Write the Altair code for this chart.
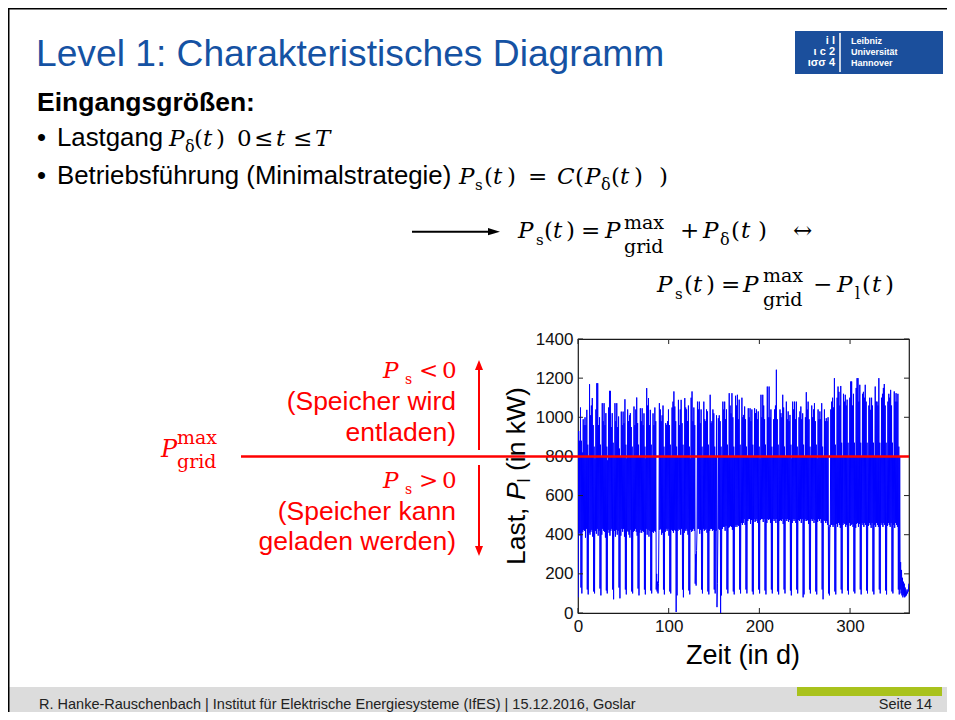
import altair as alt
import pandas as pd

# ---------------- data ----------------
x_ticks = [0, 100, 200, 300]
y_ticks = [0, 200, 400, 600, 800, 1000, 1200, 1400]
p_grid_max = [800]

# daily maximum of the load P_l (kW), one list per week (day 0 ... 364)
daily_max_weeks = [
    [930, 880, 1050, 880, 820, 990, 960],
    [1000, 960, 1038, 860, 800, 1169, 1010],
    [1060, 1098, 960, 850, 790, 1040, 1174],
    [1174, 960, 1000, 860, 800, 1072, 980],
    [1072, 960, 1021, 850, 780, 1050, 1135],
    [1135, 950, 1021, 870, 800, 1072, 980],
    [1072, 950, 1004, 840, 800, 1029, 960],
    [1029, 970, 1092, 860, 790, 1040, 980],
    [1010, 1021, 950, 850, 800, 1055, 960],
    [1040, 1101, 970, 860, 800, 1046, 980],
    [1046, 960, 1020, 850, 790, 1149, 1060],
    [1098, 960, 1038, 860, 800, 1020, 960],
    [1050, 980, 200, 160, 150, 1072, 1040],
    [980, 1010, 1060, 850, 800, 970, 961],
    [980, 1040, 960, 860, 800, 1050, 1080],
    [1132, 1055, 980, 850, 800, 1089, 960],
    [1040, 1089, 970, 860, 800, 1098, 1050],
    [1040, 980, 1060, 850, 790, 1100, 1132],
    [980, 1050, 960, 300, 320, 1080, 1040],
    [1080, 970, 1040, 850, 800, 1080, 990],
    [980, 1040, 1030, 860, 800, 1115, 970],
    [980, 1040, 1020, 850, 800, 1010, 150],
    [995, 1010, 980, 850, 800, 1080, 1040],
    [1080, 990, 1040, 860, 800, 1123, 1060],
    [1020, 1123, 1000, 850, 800, 1110, 1060],
    [1115, 990, 1090, 860, 800, 1100, 1000],
    [1012, 1055, 990, 850, 800, 1046, 1000],
    [1046, 980, 1040, 860, 800, 1046, 1021],
    [1040, 990, 1030, 850, 790, 1115, 1000],
    [1115, 1060, 990, 860, 800, 1157, 1000],
    [1157, 1000, 1040, 850, 800, 990, 1040],
    [1060, 1243, 990, 860, 800, 1040, 1021],
    [1000, 1115, 1050, 850, 800, 1080, 990],
    [1030, 980, 1012, 860, 790, 1080, 1040],
    [1080, 990, 1080, 850, 800, 1000, 1030],
    [1055, 990, 1020, 860, 800, 1000, 1128],
    [1040, 1080, 990, 850, 800, 1060, 1000],
    [1040, 1072, 980, 860, 790, 1040, 990],
    [1030, 990, 1072, 850, 800, 1040, 980],
    [995, 980, 1000, 440, 450, 1040, 1080],
    [1100, 1050, 1200, 860, 800, 1100, 1157],
    [1130, 1060, 1160, 870, 800, 1120, 1080],
    [1115, 1060, 1090, 870, 800, 1100, 1183],
    [1183, 1060, 1120, 870, 800, 1150, 1200],
    [1200, 1080, 1166, 870, 800, 1120, 1130],
    [1100, 1166, 1080, 870, 800, 1060, 1100],
    [1038, 1100, 1060, 870, 800, 1157, 1080],
    [1080, 1060, 1200, 870, 800, 1100, 1120],
    [1150, 1170, 1060, 870, 800, 1080, 1120],
    [1100, 1140, 1060, 870, 800, 1132, 1080],
    [1123, 1080, 1120, 850, 800, 260, 220],
    [180, 160, 150, 130, 120, 110, 120],
    [150],
]

# daily minimum of the load P_l (kW), one list per week
daily_min_weeks = [
    [80, 410, 395, 130, 100, 415, 425],
    [420, 385, 430, 120, 95, 410, 400],
    [415, 425, 390, 110, 100, 420, 405],
    [430, 395, 420, 125, 90, 400, 430],
    [420, 415, 385, 115, 100, 425, 410],
    [395, 420, 430, 120, 70, 420, 390],
    [425, 400, 420, 130, 75, 395, 430],
    [415, 430, 390, 120, 95, 420, 415],
    [400, 385, 425, 110, 100, 415, 420],
    [430, 415, 395, 125, 90, 410, 425],
    [410, 420, 415, 120, 95, 430, 400],
    [425, 390, 420, 115, 100, 415, 410],
    [420, 415, 120, 110, 100, 420, 425],
    [430, 400, 410, 120, 95, 415, 430],
    [420, 430, 395, 110, 100, 425, 420],
    [410, 425, 420, 5, 90, 420, 430],
    [425, 400, 430, 120, 80, 410, 420],
    [430, 420, 400, 115, 95, 425, 415],
    [420, 430, 420, 150, 140, 420, 430],
    [430, 405, 425, 120, 100, 430, 420],
    [425, 430, 410, 110, 95, 420, 430],
    [430, 420, 425, 120, 100, 420, 30],
    [420, 430, 425, 0, 90, 430, 440],
    [440, 420, 445, 120, 100, 435, 440],
    [445, 440, 425, 110, 95, 440, 450],
    [440, 450, 445, 120, 100, 460, 450],
    [460, 480, 450, 120, 100, 470, 480],
    [480, 455, 475, 110, 95, 480, 465],
    [470, 480, 460, 120, 100, 475, 480],
    [480, 465, 480, 115, 95, 460, 480],
    [475, 480, 460, 120, 100, 480, 470],
    [480, 460, 480, 110, 95, 470, 475],
    [470, 480, 455, 120, 100, 480, 470],
    [480, 465, 475, 115, 90, 460, 480],
    [470, 480, 460, 120, 100, 475, 470],
    [480, 460, 480, 80, 95, 470, 480],
    [470, 475, 455, 120, 100, 480, 470],
    [480, 460, 475, 110, 95, 465, 480],
    [470, 480, 460, 120, 70, 475, 470],
    [460, 470, 450, 100, 90, 440, 450],
    [450, 440, 450, 110, 95, 455, 440],
    [460, 450, 435, 120, 100, 450, 460],
    [455, 440, 450, 115, 95, 460, 445],
    [450, 455, 440, 110, 100, 435, 455],
    [460, 440, 455, 120, 95, 460, 450],
    [440, 460, 450, 115, 100, 445, 460],
    [450, 435, 460, 110, 95, 450, 440],
    [460, 450, 440, 120, 100, 460, 450],
    [440, 460, 450, 115, 95, 445, 460],
    [450, 440, 460, 110, 100, 450, 435],
    [460, 450, 440, 120, 95, 120, 100],
    [90, 80, 90, 80, 85, 90, 100],
    [110],
]

daily_max = [v for w in daily_max_weeks for v in w][:365]
daily_min = [v for w in daily_min_weeks for v in w][:365]

rows = []
for d, (lo, hi) in enumerate(zip(daily_min, daily_max)):
    rows.append({"t": d + 0.25, "p": lo})
    rows.append({"t": d + 0.75, "p": hi})
load = pd.DataFrame(rows)

# ---------------- layout helpers ----------------
OX, OY = 578, 339          # page position of the plot's top-left corner
W, H = 331, 274
SANS = "Liberation Sans, Arial, Helvetica, sans-serif"
SERIF = "DejaVu Serif, serif"
BLACK = "#000000"
RED = "#ff0000"
BLUE_T = "#1552a3"

one = pd.DataFrame({"k": [0]})


def txt(s, X, Y, size, font=SANS, color=BLACK, style="normal", weight="normal",
        align="left", baseline="alphabetic", angle=0):
    return alt.Chart(one).mark_text(
        text=s, font=font, fontSize=size, color=color, fontStyle=style,
        fontWeight=weight, align=align, baseline=baseline, angle=angle
    ).encode(x=alt.value(X - OX), y=alt.value(Y - OY))


def rule(X1, Y1, X2, Y2, color, w):
    return alt.Chart(one).mark_rule(color=color, strokeWidth=w).encode(
        x=alt.value(X1 - OX), x2=alt.value(X2 - OX),
        y=alt.value(Y1 - OY), y2=alt.value(Y2 - OY))


def rect(X1, Y1, X2, Y2, color):
    return alt.Chart(one).mark_rect(color=color).encode(
        x=alt.value(X1 - OX), x2=alt.value(X2 - OX),
        y=alt.value(Y1 - OY), y2=alt.value(Y2 - OY))


def head(X, Y, path, size, color):
    return alt.Chart(one).mark_point(
        shape=path, filled=True, size=size, color=color, opacity=1, strokeWidth=0
    ).encode(x=alt.value(X - OX), y=alt.value(Y - OY))


def math(pieces, color=BLACK):
    out = []
    for s, X, Y, size, style in pieces:
        out.append(txt(s, X, Y, size, font=SERIF, color=color, style=style))
    return out


# ---------------- plot ----------------
xs = alt.Scale(domain=[0, 365], nice=False, zero=False)
ys = alt.Scale(domain=[0, 1400], nice=False)
xa = alt.Axis(values=x_ticks, title=None, ticks=False, domain=False, grid=False,
              labelFont=SANS, labelFontSize=17, labelColor="#111111",
              labelPadding=5, labelFlush=False, format="d")
ya = alt.Axis(values=y_ticks, title=None, ticks=False, domain=False, grid=False,
              labelFont=SANS, labelFontSize=17, labelColor="#111111",
              labelPadding=5, format="d")

line = alt.Chart(load).mark_line(color="#0000ff", strokeWidth=1, clip=True).encode(
    x=alt.X("t:Q", scale=xs, axis=xa),
    y=alt.Y("p:Q", scale=ys, axis=ya),
)

xt = pd.DataFrame({"t": x_ticks})
yt = pd.DataFrame({"p": y_ticks})
tick_col = "#222222"
ticks = [
    alt.Chart(xt).mark_rule(color=tick_col, strokeWidth=1).encode(
        x=alt.X("t:Q", scale=xs, axis=xa), y=alt.value(H), y2=alt.value(H - 5)),
    alt.Chart(xt).mark_rule(color=tick_col, strokeWidth=1).encode(
        x=alt.X("t:Q", scale=xs, axis=xa), y=alt.value(0), y2=alt.value(5)),
    alt.Chart(yt).mark_rule(color=tick_col, strokeWidth=1).encode(
        y=alt.Y("p:Q", scale=ys, axis=ya), x=alt.value(0), x2=alt.value(5)),
    alt.Chart(yt).mark_rule(color=tick_col, strokeWidth=1).encode(
        y=alt.Y("p:Q", scale=ys, axis=ya), x=alt.value(W), x2=alt.value(W - 5)),
]

grid_line = alt.Chart(pd.DataFrame({"p": p_grid_max})).mark_rule(
    color=RED, strokeWidth=2.6).encode(
    y=alt.Y("p:Q", scale=ys, axis=ya), x=alt.value(241 - OX), x2=alt.value(W))

layers = [line] + ticks

# axis titles
layers += [
    txt("Zeit (in d)", 743, 664, 27, align="center"),
    txt("Last,", 525, 565, 26.5, angle=270),
    txt("P", 525, 500, 26.5, style="italic", angle=270),
    txt("l", 530, 482.5, 18, angle=270),
    txt("(in kW)", 525, 471, 26.5, angle=270),
]

layers.append(grid_line)

# slide frame, footer, logo
layers += [
    rect(8, 687, 947, 712, "#dcdcdc"),
    rect(797, 687, 942, 696, "#a9c21c"),
    rule(8.5, 8, 8.5, 712, BLACK, 2),
    rule(8, 8.5, 947, 8.5, BLACK, 2),
    txt("R. Hanke-Rauschenbach | Institut für Elektrische Energiesysteme (IfES) | 15.12.2016, Goslar",
        39, 708.5, 14.5, color="#222222"),
    txt("Seite 14", 932, 708.5, 14.5, color="#222222", align="right"),
    rect(795, 31, 943, 74, "#1b4f9c"),
    rule(840, 33, 840, 72, "#ffffff", 1.5),
    txt("Leibniz", 851, 44, 9, color="#ffffff", weight="bold"),
    txt("Universität", 851, 55, 9, color="#ffffff", weight="bold"),
    txt("Hannover", 851, 66, 9, color="#ffffff", weight="bold"),
    txt("i  l", 835, 44, 11, color="#ffffff", weight="bold", align="right"),
    txt("ι c 2", 835, 55, 11, color="#ffffff", weight="bold", align="right"),
    txt("ισσ 4", 835, 66, 11, color="#ffffff", weight="bold", align="right"),
]

# title and bullets
layers += [
    txt("Level 1: Charakteristisches Diagramm", 36, 66, 37.2, color=BLUE_T),
    txt("Eingangsgrößen:", 37, 111, 26.5, weight="bold"),
    txt("•", 37, 146, 25.8),
    txt("Lastgang", 57, 146, 25.8),
    txt("•", 37, 184, 25.8),
    txt("Betriebsführung (Minimalstrategie)", 57, 184, 25.8),
]
layers += math([
    ("P", 169, 146, 23, "italic"), ("δ", 185, 152, 16, "normal"),
    ("(", 194, 146, 23, "normal"), ("t", 203, 146, 23, "italic"), (")", 216, 146, 23, "normal"),
    ("0", 237, 146, 23, "normal"), ("≤", 254, 146, 23, "normal"),
    ("t", 276, 146, 23, "italic"), ("≤", 293, 146, 23, "normal"),
    ("T", 315, 146, 23, "italic"),
    ("P", 459, 184, 23, "italic"), ("s", 475, 190, 15, "normal"),
    ("(", 484, 184, 23, "normal"), ("t", 493, 184, 23, "italic"), (")", 507, 184, 23, "normal"),
    ("=", 528, 184, 23, "normal"), ("C", 557, 184, 23, "italic"),
    ("(", 575, 184, 23, "normal"), ("P", 585, 184, 23, "italic"), ("δ", 601, 190, 16, "normal"),
    ("(", 611, 184, 23, "normal"), ("t", 620, 184, 23, "italic"), (")", 634, 184, 23, "normal"),
    (")", 659, 184, 23, "normal"),
])

# equations on the right
layers += [
    rule(412, 231.7, 490, 231.7, BLACK, 2),
    head(494, 231.7, "M1,0L-1,0.6L-1,-0.6Z", 144, BLACK),
]
layers += math([
    ("P", 518, 238, 23, "italic"), ("s", 536, 245, 15, "normal"),
    ("(", 544, 238, 23, "normal"), ("t", 553, 238, 23, "italic"), (")", 566, 238, 23, "normal"),
    ("=", 581, 238, 23, "normal"), ("P", 605, 238, 23, "italic"),
    ("max", 624, 229, 19, "normal"), ("grid", 624, 252.5, 19, "normal"),
    ("+", 680, 238, 23, "normal"), ("P", 703, 238, 23, "italic"), ("δ", 720, 245, 16, "normal"),
    ("(", 731, 238, 23, "normal"), ("t", 741, 238, 23, "italic"), (")", 758, 238, 23, "normal"),
    ("↔", 793, 238, 23, "normal"),
    ("P", 657, 292, 23, "italic"), ("s", 675, 299, 15, "normal"),
    ("(", 684, 292, 23, "normal"), ("t", 693, 292, 23, "italic"), (")", 706, 292, 23, "normal"),
    ("=", 721, 292, 23, "normal"), ("P", 743, 292, 23, "italic"),
    ("max", 763, 282, 19, "normal"), ("grid", 763, 305.5, 19, "normal"),
    ("−", 813, 292, 23, "normal"), ("P", 837, 292, 23, "italic"), ("l", 855, 299, 16, "normal"),
    ("(", 862, 292, 23, "normal"), ("t", 872, 292, 23, "italic"), (")", 885, 292, 23, "normal"),
])

# red annotations
layers += math([
    ("P", 383, 378, 23, "italic"), ("s", 405, 384, 14, "normal"),
    ("<", 419, 378, 23, "normal"), ("0", 442, 378, 23, "normal"),
    ("P", 383, 488, 23, "italic"), ("s", 405, 494, 14, "normal"),
    (">", 419, 488, 23, "normal"), ("0", 442, 488, 23, "normal"),
    ("P", 161, 457, 24, "italic"), ("max", 177, 444, 19, "normal"), ("grid", 177, 467.5, 19, "normal"),
], color=RED)
layers += [
    txt("(Speicher wird", 456, 410, 26.5, color=RED, align="right"),
    txt("entladen)", 456, 441, 26.5, color=RED, align="right"),
    txt("(Speicher kann", 456, 520, 26.5, color=RED, align="right"),
    txt("geladen werden)", 456, 550, 26.5, color=RED, align="right"),
    rule(479, 450, 479, 366, RED, 2),
    head(479, 365, "M0,-1L0.8,1L-0.8,1Z", 100, RED),
    rule(479, 465, 479, 550, RED, 2),
    head(479, 551, "M0,1L0.8,-1L-0.8,-1Z", 100, RED),
]

chart = alt.layer(*layers).properties(
    width=W, height=H,
    padding={"left": 570, "top": 331, "right": 38, "bottom": 99},
    autosize=alt.AutoSizeParams(type="none"),
    background="#ffffff",
).configure_view(stroke="#1a1a1a", strokeWidth=1.2)

chart.save("out.html", embed_options={"renderer": "svg", "actions": False})
